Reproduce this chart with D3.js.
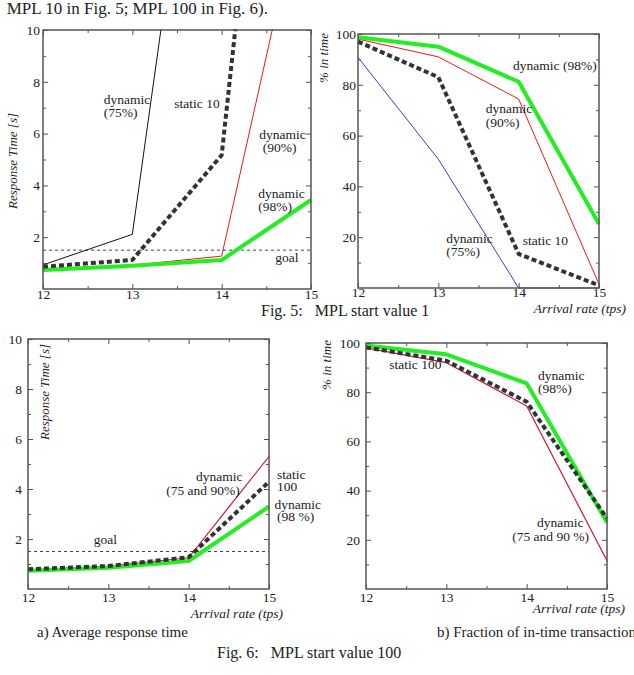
<!DOCTYPE html>
<html>
<head>
<meta charset="utf-8">
<script src="https://cdn.jsdelivr.net/npm/d3@7"></script>
<style>
  body { margin: 0; background: #fff; }
  svg { display: block; }
  text { font-family: "Liberation Serif", "DejaVu Serif", serif; fill: #222; }
  .cap { white-space: pre; }
</style>
</head>
<body>
<div id="chart"></div>
<script>
// arrival rate (tps)
const arrival = [12, 13, 14, 15];

// Fig. 5 a) response time [s], MPL start value 1
const rt5Dyn75 = [0.93, 2.11, 26.8];
const rt5Static10 = [0.86, 1.12, 5.17, 37];
const rt5Dyn90 = [0.75, 0.92, 1.27, 16.7];
const rt5Dyn98 = [0.73, 0.9, 1.12, 3.44];

// Fig. 5 b) % in time
const it5Dyn75 = [90.8, 50.7, 0, 0];
const it5Dyn90 = [98, 91, 74.4, 1.5];
const it5Static10 = [97, 83, 13.4, 1];
const it5Dyn98 = [98.7, 95, 81.2, 25.2];

// Fig. 6 a) response time [s], MPL start value 100
const rt6Dyn7590 = [0.75, 0.92, 1.25, 5.3];
const rt6Static100 = [0.79, 0.92, 1.27, 4.29];
const rt6Dyn98 = [0.73, 0.85, 1.12, 3.3];

// Fig. 6 b) % in time
const it6Dyn7590 = [98, 92, 74.4, 11.5];
const it6Static100 = [98.2, 92.8, 76.1, 28.7];
const it6Dyn98 = [99, 95.4, 83.6, 27];

const goal = 1.5;

const xTicks = [12, 13, 14, 15];
const xMinor = [12.5, 13.5, 14.5];
const rtTicks = [2, 4, 6, 8, 10];
const rtMinor = [1, 3, 5, 7, 9];
const pctTicks = [20, 40, 60, 80, 100];
const pctMinor = [10, 30, 50, 70, 90];

// line styles
const thinBlack = {stroke: "#111", width: 1};
const thinRed = {stroke: "#f01818", width: 1};
const thinBlue = {stroke: "#3a3ad0", width: 1};
const thinCrimson = {stroke: "#c8183c", width: 1.2};
const thickGreen = {stroke: "#22ee22", width: 4};
const thickDash = {stroke: "#333", width: 4, dash: "5,3"};

const svg = d3.select("#chart").append("svg")
    .attr("width", 634)
    .attr("height", 675);

svg.append("rect").attr("width", 634).attr("height", 675).attr("fill", "#fff");

const fs = "13.5px";

function panel(id, box, yDomain, yT, yM, gap, series, labels, opts) {
    const x = d3.scaleLinear().domain([12, 15]).range([box.left, box.right]);
    const y = d3.scaleLinear().domain(yDomain).range([box.bottom, box.top]);
    const g = svg.append("g");

    g.append("clipPath").attr("id", id)
      .append("rect")
        .attr("x", box.left - 1).attr("y", box.top - 1)
        .attr("width", box.right - box.left + 2)
        .attr("height", box.bottom - box.top + 3);

    // ticks, inward on all four sides
    const mk = (axis, scale, vals, size, label) => axis(scale)
        .tickValues(vals).tickSize(-size).tickSizeOuter(0)
        .tickPadding(label ? gap : 0)
        .tickFormat(label ? d3.format("d") : "");

    const axes = [
        [mk(d3.axisBottom, x, xTicks, 5, true), `translate(0,${box.bottom})`, true],
        [mk(d3.axisBottom, x, xMinor, 3, false), `translate(0,${box.bottom})`],
        [mk(d3.axisTop, x, xTicks, 5, false), `translate(0,${box.top})`],
        [mk(d3.axisTop, x, xMinor, 3, false), `translate(0,${box.top})`],
        [mk(d3.axisLeft, y, yT, 5, true), `translate(${box.left},0)`, true],
        [mk(d3.axisLeft, y, yM, 3, false), `translate(${box.left},0)`],
        [mk(d3.axisRight, y, yT, 5, false), `translate(${box.right},0)`],
        [mk(d3.axisRight, y, yM, 3, false), `translate(${box.right},0)`]
    ];
    axes.forEach(([ax, tr, lab]) => {
        const a = g.append("g").attr("transform", tr).call(ax);
        a.select(".domain").remove();
        a.selectAll("line").attr("stroke", "#555").attr("stroke-width", 1);
        a.selectAll("text")
            .style("font-family", "Liberation Serif")
            .style("font-size", fs).attr("fill", "#222");
    });
    g.selectAll("g").filter(function () { return this.getAttribute("transform") === `translate(0,${box.bottom})`; })
      .selectAll("text").attr("dy", "0.5em");

    const plot = g.append("g").attr("clip-path", `url(#${id})`);

    if (opts.goal) {
        plot.append("line")
            .attr("x1", box.left).attr("x2", box.right)
            .attr("y1", y(goal)).attr("y2", y(goal))
            .attr("stroke", "#444").attr("stroke-width", 1)
            .attr("stroke-dasharray", "3,3");
    }

    const line = d3.line().x((d, i) => x(arrival[i])).y(d => y(d));
    series.forEach(([vals, st]) => {
        plot.append("path")
            .attr("d", line(vals))
            .attr("fill", "none")
            .attr("stroke", st.stroke)
            .attr("stroke-width", st.width)
            .attr("stroke-dasharray", st.dash || null)
            .attr("stroke-linejoin", "round");
    });

    // frame
    g.append("rect")
        .attr("x", box.left).attr("y", box.top)
        .attr("width", box.right - box.left).attr("height", box.bottom - box.top)
        .attr("fill", "none").attr("stroke", "#555").attr("stroke-width", 1.5);

    labels.forEach(([t, lx, ly]) => {
        g.append("text")
            .attr("x", x(lx)).attr("y", y(ly))
            .style("font-size", fs)
            .text(t);
    });

    // axis titles
    g.append("text")
        .attr("transform", `translate(${opts.yTitle[1]},${opts.yTitle[2]}) rotate(-90)`)
        .attr("text-anchor", "middle")
        .style("font-size", "13px").style("font-style", "italic")
        .text(opts.yTitle[0]);
    if (opts.xTitle) {
        g.append("text")
            .attr("x", opts.xTitle[0]).attr("y", opts.xTitle[1])
            .attr("text-anchor", "end")
            .style("font-size", "13.5px").style("font-style", "italic")
            .text("Arrival rate (tps)");
    }
}

panel("c1", {left: 43, right: 311, top: 30, bottom: 289}, [0, 10], rtTicks, rtMinor, 3,
    [[rt5Dyn75, thinBlack], [rt5Dyn90, thinRed], [rt5Dyn98, thickGreen], [rt5Static10, thickDash]],
    [["dynamic", 12.68, 7.14], ["(75%)", 12.68, 6.64], ["static 10", 13.47, 6.99],
     ["dynamic", 14.42, 5.79], ["(90%)", 14.46, 5.29],
     ["dynamic", 14.41, 3.51], ["(98%)", 14.41, 3.01], ["goal", 14.6, 1.04]],
    {goal: true, yTitle: ["Response Time [s]", 17, 161]});

panel("c2", {left: 358, right: 599, top: 34, bottom: 288}, [0, 100], pctTicks, pctMinor, 2,
    [[it5Dyn75, thinBlue], [it5Dyn90, thinRed], [it5Dyn98, thickGreen], [it5Static10, thickDash]],
    [["dynamic (98%)", 13.93, 85.8], ["dynamic", 13.59, 68.9], ["(90%)", 13.59, 63.4],
     ["dynamic", 13.1, 17.7], ["(75%)", 13.1, 12.6], ["static 10", 14.05, 16.9]],
    {yTitle: ["% in time", 328, 58], xTitle: [626, 313]});

panel("c3", {left: 28, right: 269, top: 339, bottom: 589}, [0, 10], rtTicks, rtMinor, 6,
    [[rt6Dyn7590, thinCrimson], [rt6Dyn98, thickGreen], [rt6Static100, thickDash]],
    [["goal", 12.82, 1.8], ["dynamic", 14.09, 4.32], ["(75 and 90%)", 13.72, 3.76],
     ["static", 15.1, 4.4], ["100", 15.1, 3.92], ["dynamic", 15.07, 3.2], ["(98 %)", 15.1, 2.72]],
    {goal: true, yTitle: ["Response Time [s]", 49, 392], xTitle: [283, 618]});

panel("c4", {left: 366, right: 607, top: 343, bottom: 589}, [0, 100], pctTicks, pctMinor, 6,
    [[it6Dyn7590, thinCrimson], [it6Dyn98, thickGreen], [it6Static100, thickDash]],
    [["static 100", 12.29, 89.4], ["dynamic", 14.14, 85], ["(98%)", 14.14, 79.7],
     ["dynamic", 14.13, 25.2], ["(75 and 90 %)", 13.82, 19.5]],
    {yTitle: ["% in time", 331, 365], xTitle: [625, 613]});

// captions
svg.append("text").attr("x", 268).attr("y", 14).attr("text-anchor", "end")
    .style("font-size", "17px").text("MPL 10 in Fig. 5; MPL 100 in Fig. 6).");
svg.append("text").attr("class", "cap").attr("x", 261).attr("y", 316)
    .style("font-size", "16px").text("Fig. 5:   MPL start value 1");
svg.append("text").attr("x", 37).attr("y", 637)
    .style("font-size", "15px").text("a) Average response time");
svg.append("text").attr("x", 437).attr("y", 637)
    .style("font-size", "15px").text("b) Fraction of in-time transactions");
svg.append("text").attr("class", "cap").attr("x", 217).attr("y", 658)
    .style("font-size", "16px").text("Fig. 6:   MPL start value 100");
</script>
</body>
</html>
